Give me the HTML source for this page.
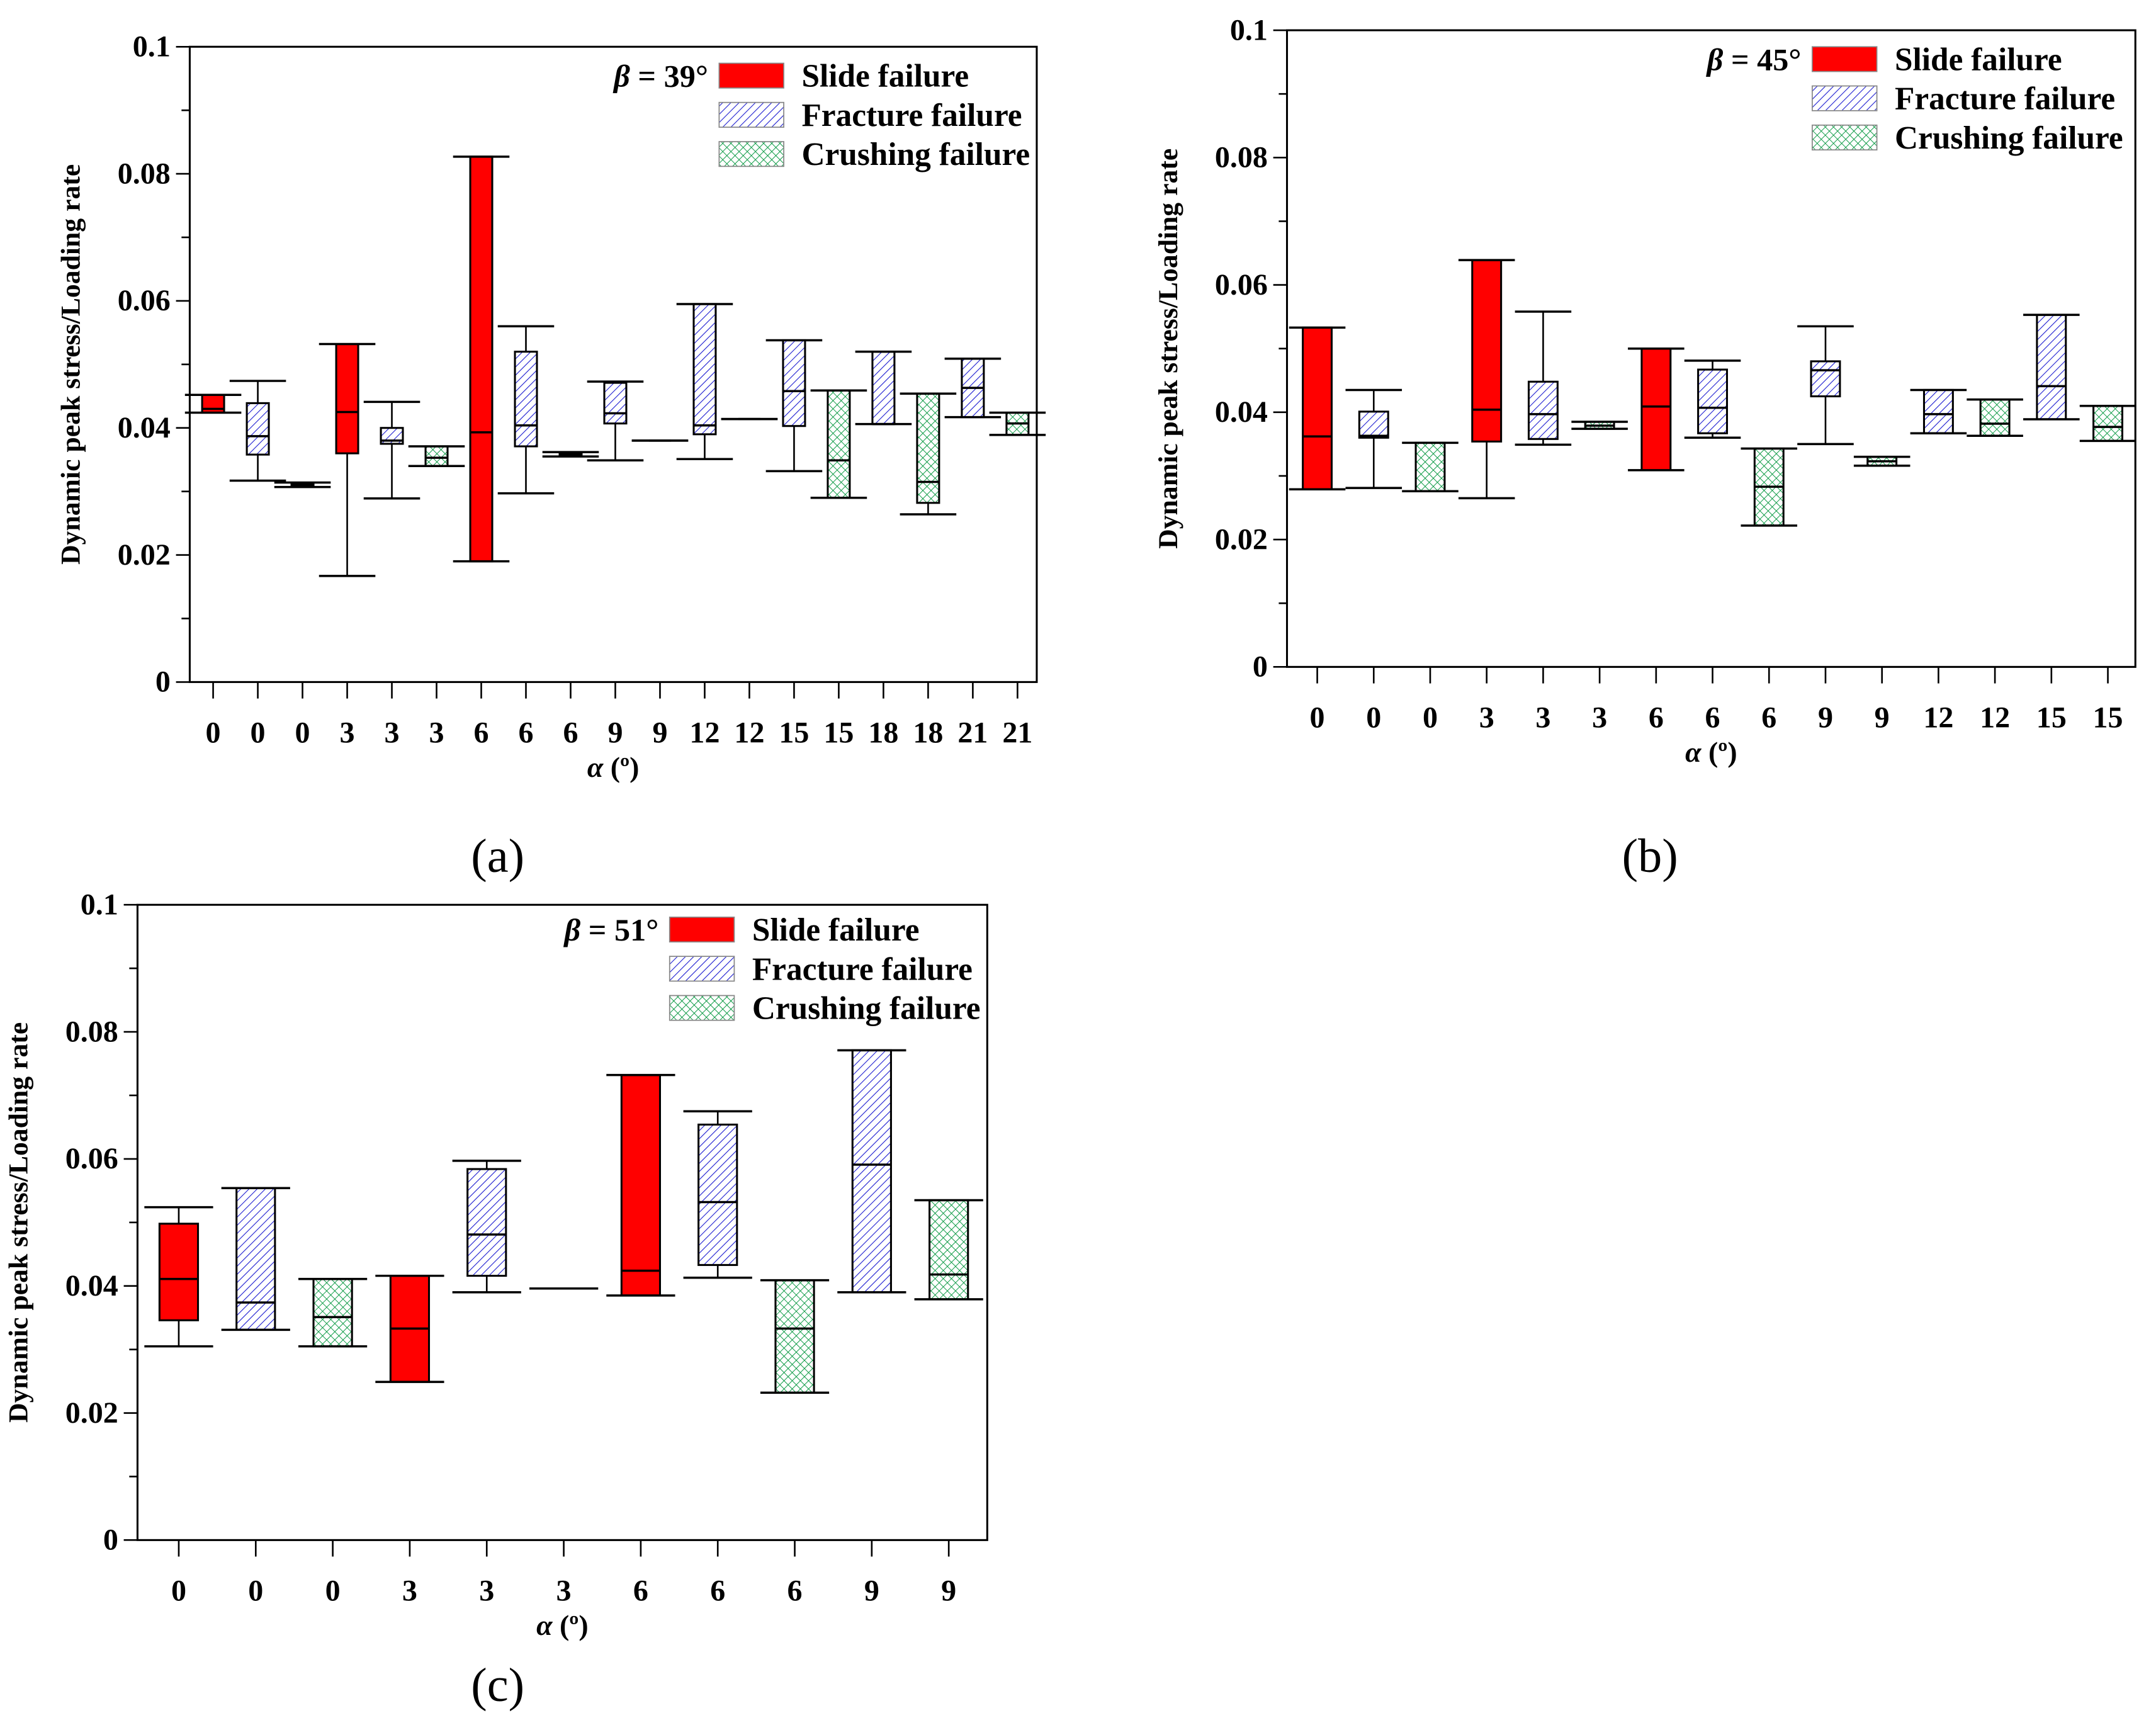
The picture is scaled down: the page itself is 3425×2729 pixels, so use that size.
<!DOCTYPE html>
<html><head><meta charset="utf-8"><style>
html,body{margin:0;padding:0;background:#fff}
svg{display:block}
text{font-family:"Liberation Serif",serif}
</style></head><body>
<svg id="fig" width="3425" height="2729" viewBox="0 0 1568 1249.4" preserveAspectRatio="none" xmlns="http://www.w3.org/2000/svg">
<defs>
<pattern id="hatch" patternUnits="userSpaceOnUse" width="4.2" height="4.2" patternTransform="rotate(45)">
<rect width="4.2" height="4.2" fill="#fff"/><line x1="0" y1="0" x2="0" y2="4.2" stroke="#1a1ad0" stroke-width="1"/></pattern>
<pattern id="cross" patternUnits="userSpaceOnUse" width="4.2" height="4.2" patternTransform="rotate(45)">
<rect width="4.2" height="4.2" fill="#fff"/><line x1="0" y1="0" x2="0" y2="4.2" stroke="#0d9a45" stroke-width="0.9"/><line x1="0" y1="0" x2="4.2" y2="0" stroke="#0d9a45" stroke-width="0.9"/></pattern>
</defs>
</svg>
<script>
// Panel (a) beta = 39
const aLabels=[0,0,0,3,3,3,6,6,6,9,9,12,12,15,15,18,18,21,21];
const aTypes=['S','F','C','S','F','C','S','F','C','F','C','F','C','F','C','F','C','F','C'];
const aHigh=[.0452,.0474,.0314,.0532,.0441,.0371,.0827,.0560,.0362,.0473,.0380,.0595,.0414,.0538,.0459,.0520,.0454,.0509,.0424];
const aQ3=[.0452,.0439,.0312,.0532,.0400,.0371,.0827,.0520,.0361,.0471,.0380,.0595,.0414,.0538,.0459,.0520,.0454,.0509,.0424];
const aMed=[.0430,.0387,.0310,.0425,.0380,.0353,.0393,.0404,.0358,.0423,.0380,.0404,.0414,.0458,.0349,.0406,.0315,.0463,.0407];
const aQ1=[.0424,.0358,.0309,.0360,.0375,.0340,.0190,.0371,.0356,.0407,.0380,.0390,.0414,.0403,.0290,.0406,.0282,.0417,.0389];
const aLow=[.0424,.0317,.0307,.0167,.0289,.0340,.0190,.0297,.0355,.0349,.0380,.0351,.0414,.0332,.0290,.0406,.0264,.0417,.0389];
// Panel (b) beta = 45
const bLabels=[0,0,0,3,3,3,6,6,6,9,9,12,12,15,15];
const bTypes=['S','F','C','S','F','C','S','F','C','F','C','F','C','F','C'];
const bHigh=[.0533,.0435,.0352,.0639,.0558,.0385,.0500,.0481,.0343,.0535,.0330,.0435,.0420,.0553,.0410];
const bQ3=[.0533,.0401,.0352,.0639,.0448,.0385,.0500,.0467,.0343,.0480,.0330,.0435,.0420,.0553,.0410];
const bMed=[.0362,.0363,.0276,.0404,.0397,.0379,.0409,.0407,.0283,.0466,.0323,.0397,.0382,.0441,.0377];
const bQ1=[.0279,.0360,.0276,.0354,.0358,.0374,.0309,.0367,.0222,.0425,.0316,.0367,.0363,.0389,.0355];
const bLow=[.0279,.0281,.0276,.0265,.0349,.0374,.0309,.0360,.0222,.0350,.0316,.0367,.0363,.0389,.0355];
// Panel (c) beta = 51
const cLabels=[0,0,0,3,3,3,6,6,6,9,9];
const cTypes=['S','F','C','S','F','F','S','F','C','F','C'];
const cHigh=[.0524,.0554,.0411,.0416,.0597,.0396,.0732,.0675,.0409,.0771,.0535];
const cQ3=[.0498,.0554,.0411,.0416,.0584,.0396,.0732,.0654,.0409,.0771,.0535];
const cMed=[.0411,.0374,.0351,.0333,.0481,.0396,.0424,.0532,.0333,.0591,.0418];
const cQ1=[.0346,.0331,.0305,.0249,.0416,.0396,.0385,.0433,.0232,.0390,.0379];
const cLow=[.0305,.0331,.0305,.0249,.0390,.0396,.0385,.0413,.0232,.0390,.0379];
const yTicks=[0,0.02,0.04,0.06,0.08,0.1];
const yTickLabels=['0','0.02','0.04','0.06','0.08','0.1'];

const NS='http://www.w3.org/2000/svg';
const svg=document.getElementById('fig');
function mk(tag,attrs,parent,txt){const e=document.createElementNS(NS,tag);for(const k in attrs)e.setAttribute(k,attrs[k]);if(txt!==undefined)e.textContent=txt;(parent||svg).appendChild(e);return e;}
const fills={S:'#ff0000',F:'url(#hatch)',C:'url(#cross)'};

function panel(id,L,T,R,B,first,last,boxW,capW,labels,types,high,q3,med,q1,low,beta,legX,legY,capLabel,capX,capY){
  const g=mk('g',{});
  
  
  const y=v=>B-(v/0.1)*(B-T);
  const n=labels.length;
  const x=i=>first+i*(last-first)/(n-1);
  const fr=mk('rect',{x:L,y:T,width:R-L,height:B-T,fill:'none',stroke:'#000','stroke-width':1.4},g);
  
  
  for(let k=0;k<=10;k++){const v=k*0.01;mk('line',{x1:L-(k%2?6:10),x2:L,y1:y(v),y2:y(v),stroke:'#000','stroke-width':1.2},g);}
  yTicks.forEach((v,i)=>{const t=mk('text',{x:L-14,y:y(v)+7,'text-anchor':'end','font-size':22,'font-weight':'bold'},g,yTickLabels[i]);
    
    });
  labels.forEach((lb,i)=>{mk('line',{x1:x(i),x2:x(i),y1:B,y2:B+12,stroke:'#000','stroke-width':1.2},g);
    const t=mk('text',{x:x(i),y:B+44,'text-anchor':'middle','font-size':22,'font-weight':'bold'},g,String(lb));
    
    });
  const xt=mk('text',{x:(L+R)/2,y:B+69,'text-anchor':'middle','font-size':21,'font-weight':'bold'},g);
  
  
  mk('tspan',{'font-style':'italic'},xt,'α');mk('tspan',{},xt,' (º)');
  const cy=(T+B)/2;
  const yt=mk('text',{x:L-80,y:cy,'text-anchor':'middle','font-size':20,'font-weight':'bold',transform:`rotate(-90 ${L-80} ${cy})`},g,'Dynamic peak stress/Loading rate');
  
  
  for(let i=0;i<n;i++){
    const bg=mk('g',{},g);
    
    
    const cx=x(i);
    mk('line',{x1:cx,x2:cx,y1:y(high[i]),y2:y(q3[i]),stroke:'#000','stroke-width':1.2},bg);
    mk('line',{x1:cx,x2:cx,y1:y(q1[i]),y2:y(low[i]),stroke:'#000','stroke-width':1.2},bg);
    mk('rect',{x:cx-boxW/2,y:y(q3[i]),width:boxW,height:Math.max(0,y(q1[i])-y(q3[i])),fill:fills[types[i]],stroke:'#000','stroke-width':1.4},bg);
    mk('line',{x1:cx-boxW/2,x2:cx+boxW/2,y1:y(med[i]),y2:y(med[i]),stroke:'#000','stroke-width':1.6},bg);
    mk('line',{x1:cx-capW/2,x2:cx+capW/2,y1:y(high[i]),y2:y(high[i]),stroke:'#000','stroke-width':1.6},bg);
    mk('line',{x1:cx-capW/2,x2:cx+capW/2,y1:y(low[i]),y2:y(low[i]),stroke:'#000','stroke-width':1.6},bg);
  }
  const lg=mk('g',{},g);
  
  
  const bt=mk('text',{x:legX-8,y:legY+17,'text-anchor':'end','font-size':23,'font-weight':'bold'},lg);
  mk('tspan',{'font-style':'italic'},bt,'β');mk('tspan',{},bt,' = '+beta+'°');
  const names=['Slide failure','Fracture failure','Crushing failure'];
  ['S','F','C'].forEach((t,k)=>{
    const e=mk('g',{},lg);
    
    
    mk('rect',{x:legX,y:legY+k*28.5,width:47,height:18,fill:fills[t],stroke:'#888','stroke-width':0.8},e);
    mk('text',{x:legX+60,y:legY+k*28.5+17,'font-size':23.5,'font-weight':'bold'},e,names[k]);
  });
  const pl=mk('text',{x:capX,y:capY,'text-anchor':'middle','font-size':35},g,capLabel);
  
  
}
panel('a',138,34,754,496,155,740,16,41,aLabels,aTypes,aHigh,aQ3,aMed,aQ1,aLow,39,523,46,'(a)',362,634);
panel('b',936,22,1553,485,958,1533,21,41,bLabels,bTypes,bHigh,bQ3,bMed,bQ1,bLow,45,1318,34,'(b)',1200,634);
panel('c',100,658,718,1120,130,690,28,50,cLabels,cTypes,cHigh,cQ3,cMed,cQ1,cLow,51,487,667,'(c)',362,1237);
</script>
</body></html>
